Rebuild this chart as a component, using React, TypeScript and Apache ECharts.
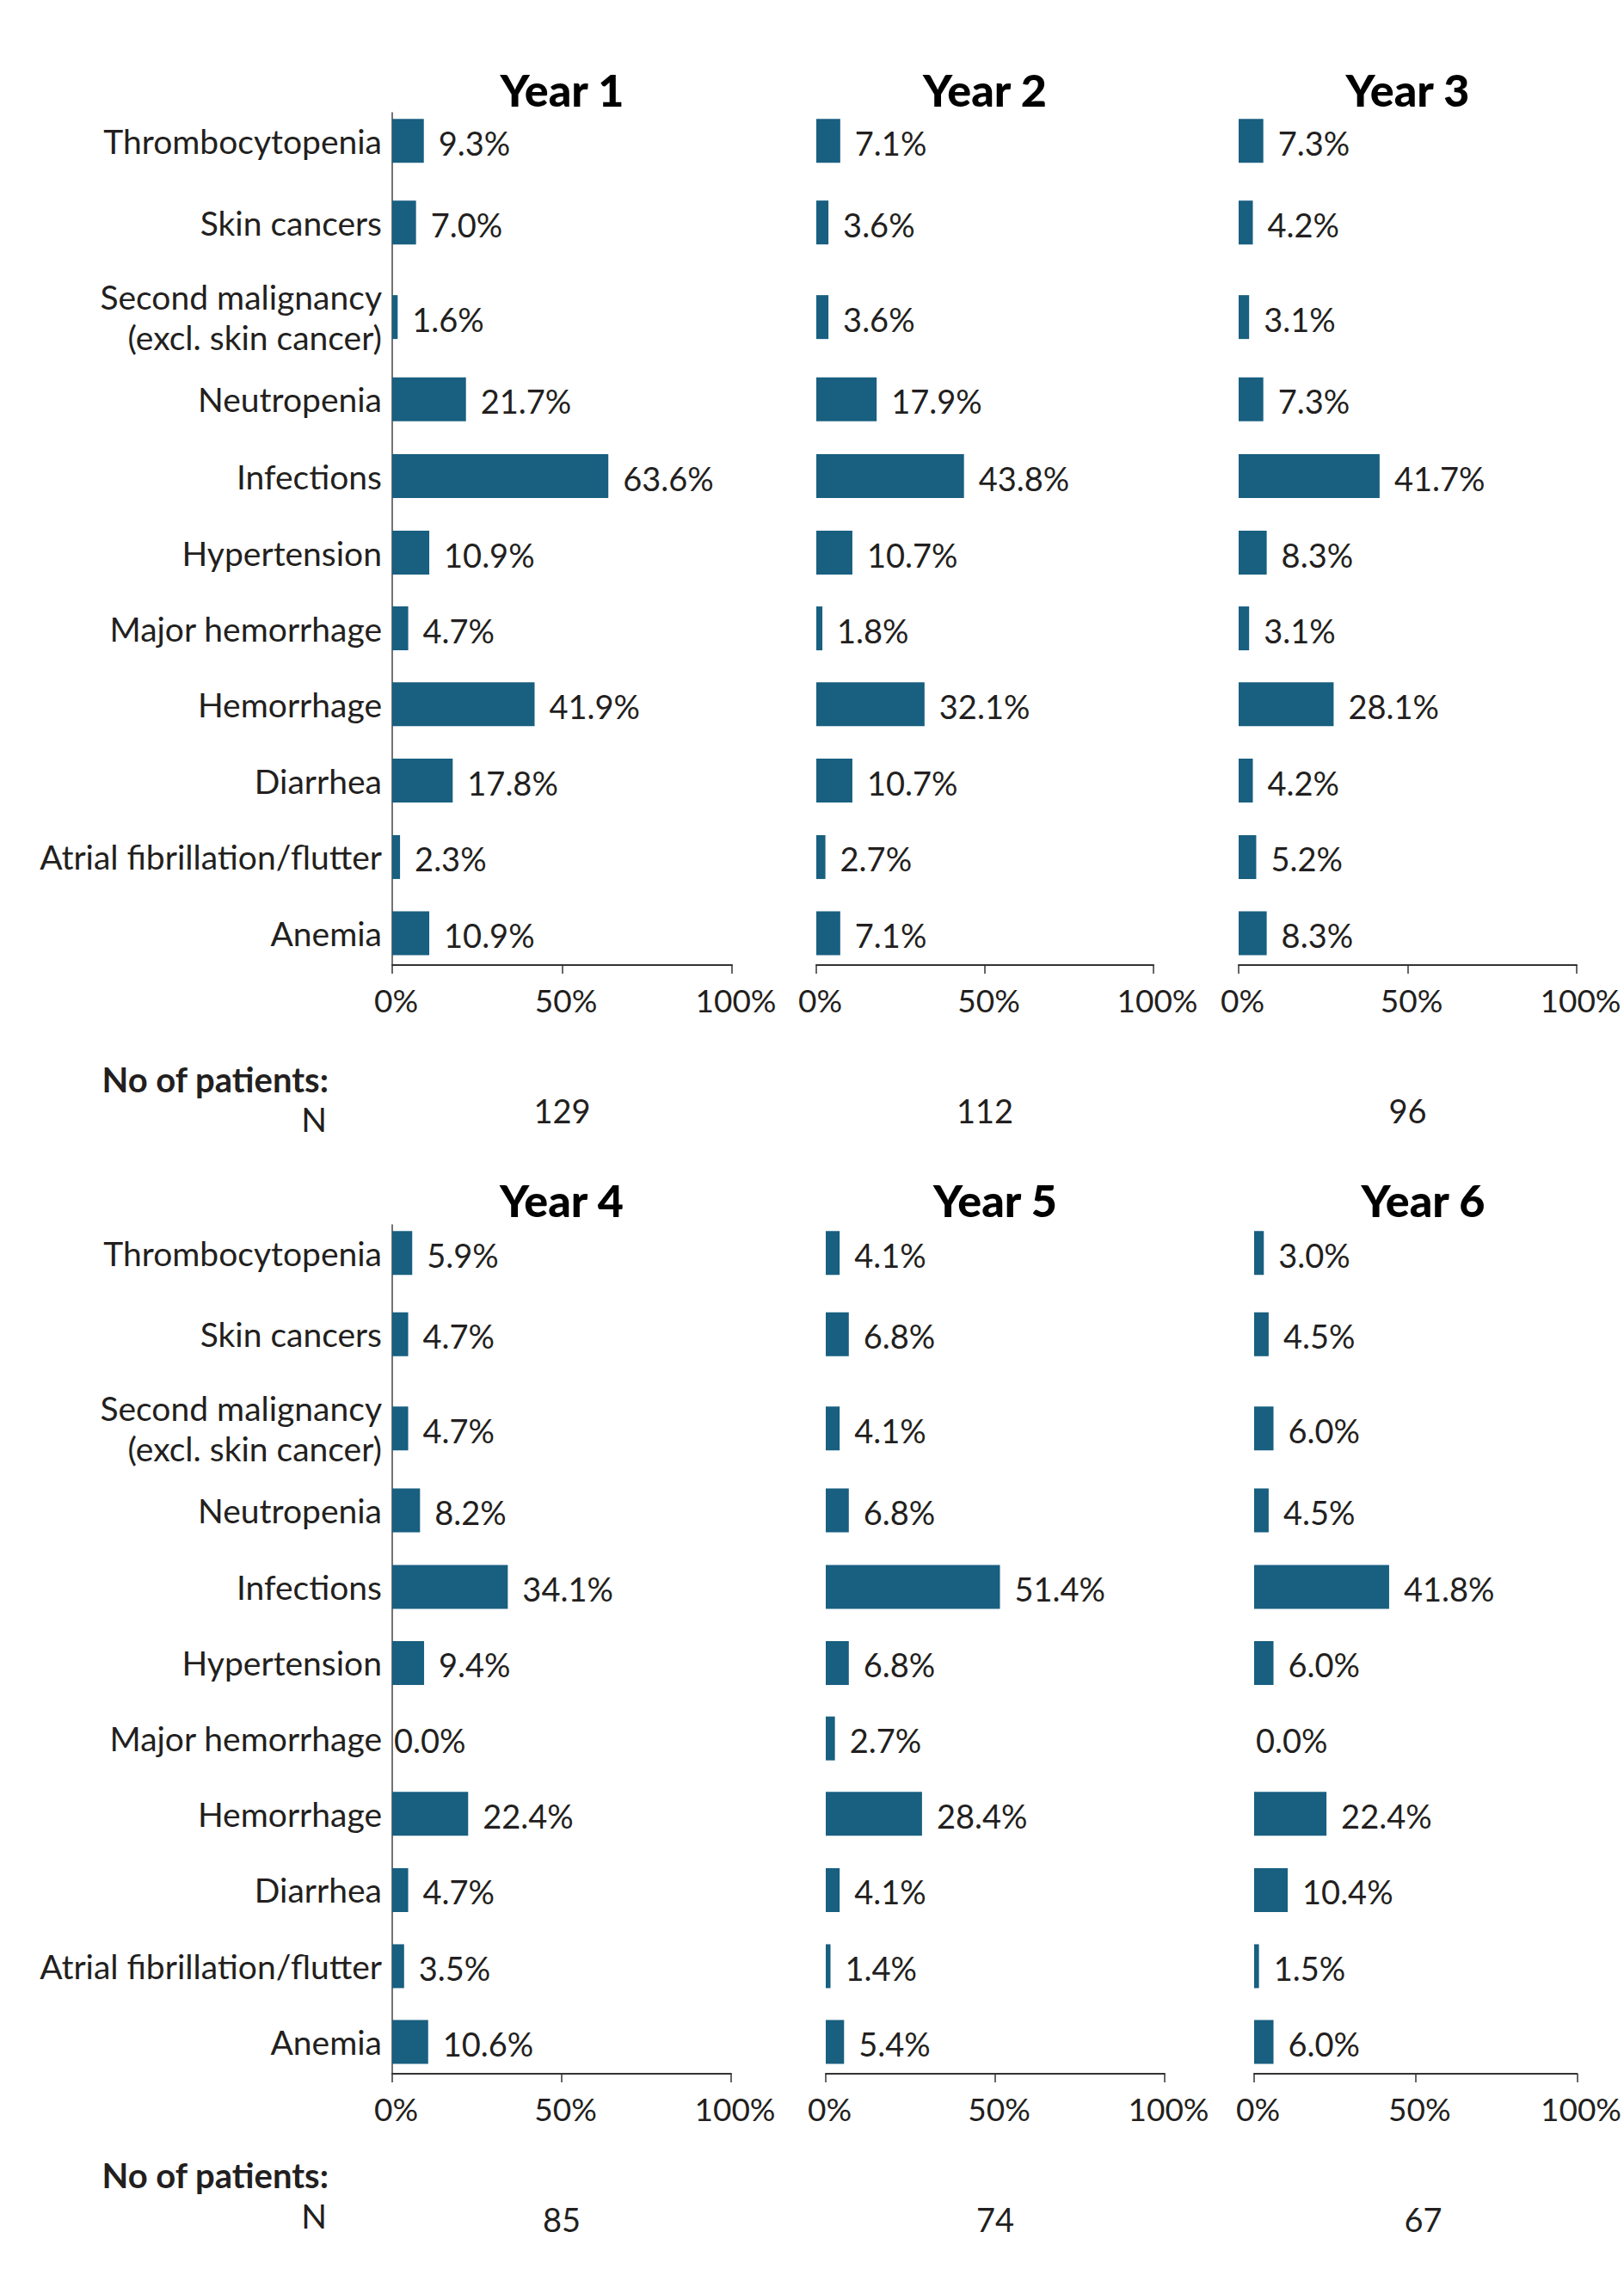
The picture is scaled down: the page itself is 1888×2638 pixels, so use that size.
import React, { useEffect, useRef } from "react";
import * as echarts from "echarts";

// ---------------- DATA ----------------
const CATEGORIES = [
  "Thrombocytopenia",
  "Skin cancers",
  "Second malignancy\n(excl. skin cancer)",
  "Neutropenia",
  "Infections",
  "Hypertension",
  "Major hemorrhage",
  "Hemorrhage",
  "Diarrhea",
  "Atrial fibrillation/flutter",
  "Anemia",
];

const YEARS = ["Year 1", "Year 2", "Year 3", "Year 4", "Year 5", "Year 6"];

const YEAR_1 = [9.3, 7.0, 1.6, 21.7, 63.6, 10.9, 4.7, 41.9, 17.8, 2.3, 10.9];
const YEAR_2 = [7.1, 3.6, 3.6, 17.9, 43.8, 10.7, 1.8, 32.1, 10.7, 2.7, 7.1];
const YEAR_3 = [7.3, 4.2, 3.1, 7.3, 41.7, 8.3, 3.1, 28.1, 4.2, 5.2, 8.3];
const YEAR_4 = [5.9, 4.7, 4.7, 8.2, 34.1, 9.4, 0.0, 22.4, 4.7, 3.5, 10.6];
const YEAR_5 = [4.1, 6.8, 4.1, 6.8, 51.4, 6.8, 2.7, 28.4, 4.1, 1.4, 5.4];
const YEAR_6 = [3.0, 4.5, 6.0, 4.5, 41.8, 6.0, 0.0, 22.4, 10.4, 1.5, 6.0];

const PATIENTS = [129, 112, 96, 85, 74, 67];

const X_TICKS = [0, 50, 100];

const SERIES_VALUES = [YEAR_1, YEAR_2, YEAR_3, YEAR_4, YEAR_5, YEAR_6];

// ---------------- LAYOUT / STYLE ----------------
const FONT = "Lato, 'Open Sans', sans-serif";
const TEXT_COLOR = "#231f20";
const BAR_COLOR = "#185f80";
const CAT_FONT_SIZE = 39;
const VAL_FONT_SIZE = 38;
const TICK_FONT_SIZE = 37;
const BAR_H = 51;
const LABEL_GAP = 17;

// row centre positions (in layout units) – the two-line label gets more room
const ROW_POS = [0, 56.25, 121.5, 178.25, 231.25, 284, 336.25, 388.5, 441.25, 494, 546.5];
const Y_MIN = -19.5;
const Y_MAX = 568.5;

const PANELS = [
  { left: 456, top: 131, width: 395, height: 991, labels: true },
  { left: 949, top: 131, width: 392, height: 991, labels: false },
  { left: 1440, top: 131, width: 393, height: 991, labels: false },
  { left: 456, top: 1424, width: 394, height: 987, labels: true },
  { left: 960, top: 1424, width: 394, height: 987, labels: false },
  { left: 1458, top: 1424, width: 393, height: 987, labels: false },
];

const TITLE_Y = [104, 104, 104, 1395, 1395, 1395];
const N_Y = [1291, 1291, 1291, 2580, 2580, 2580];
const PATIENT_ROWS = [
  { headY: 1255, nY: 1301 },
  { headY: 2529, nY: 2576 },
];
const PATIENT_RIGHT = 382;

function makeRender(showLabels: boolean) {
  return (params: any, api: any) => {
    const val = api.value(0);
    const pos = api.value(1);
    const idx = api.value(2);
    const p0 = api.coord([0, pos]);
    const p1 = api.coord([val, pos]);
    const children: any[] = [
      {
        type: "rect",
        shape: { x: p0[0], y: p0[1] - BAR_H / 2, width: p1[0] - p0[0], height: BAR_H },
        style: { fill: BAR_COLOR },
      },
      {
        type: "text",
        x: val > 0 ? p1[0] + LABEL_GAP : p0[0] + 2,
        y: p0[1] + 2,
        style: {
          text: val.toFixed(1) + "%",
          fill: TEXT_COLOR,
          fontSize: VAL_FONT_SIZE,
          fontFamily: FONT,
          align: "left",
          verticalAlign: "middle",
        },
      },
    ];
    if (showLabels) {
      children.push({
        type: "text",
        x: p0[0] - 12,
        y: p0[1],
        style: {
          text: CATEGORIES[idx],
          fill: TEXT_COLOR,
          fontSize: CAT_FONT_SIZE,
          fontFamily: FONT,
          lineHeight: 47,
          align: "right",
          verticalAlign: "middle",
        },
      });
    }
    return { type: "group", children };
  };
}

export default function App() {
  const ref = useRef<HTMLDivElement>(null);

  useEffect(() => {
    if (!ref.current) return;
    const chart = echarts.init(ref.current, null, { renderer: "svg" });

    const grid = PANELS.map((p) => ({
      left: p.left,
      top: p.top,
      width: p.width,
      height: p.height,
      containLabel: false,
    }));

    const xAxis = PANELS.map((p, i) => ({
      type: "value",
      gridIndex: i,
      min: X_TICKS[0],
      max: X_TICKS[X_TICKS.length - 1],
      interval: X_TICKS[1] - X_TICKS[0],
      position: "bottom",
      axisLine: { show: true, onZero: false, lineStyle: { color: "#333", width: 2 } },
      axisTick: { show: true, length: 10, lineStyle: { color: "#333", width: 1.5 } },
      axisLabel: {
        formatter: "{value}%",
        fontSize: TICK_FONT_SIZE,
        fontFamily: FONT,
        color: TEXT_COLOR,
        margin: 22,
        padding: [0, 0, 0, 9],
      },
      splitLine: { show: false },
    }));

    const yAxis = PANELS.map((p, i) => ({
      type: "value",
      gridIndex: i,
      inverse: true,
      min: Y_MIN,
      max: Y_MAX,
      axisLine: { show: p.labels, onZero: false, lineStyle: { color: "#444", width: 1.5 } },
      axisTick: { show: false },
      axisLabel: { show: false },
      splitLine: { show: false },
    }));

    const series = SERIES_VALUES.map((vals, i) => ({
      type: "custom",
      name: YEARS[i],
      xAxisIndex: i,
      yAxisIndex: i,
      clip: false,
      renderItem: makeRender(PANELS[i].labels),
      encode: { x: 0, y: 1 },
      data: vals.map((v, k) => [v, ROW_POS[k], k]),
    }));

    const graphics: any[] = [];
    PANELS.forEach((p, i) => {
      const cx = p.left + p.width / 2;
      graphics.push({
        type: "text",
        x: cx,
        y: TITLE_Y[i],
        style: {
          text: YEARS[i],
          fill: "#000",
          fontSize: 52,
          fontWeight: 900,
          fontFamily: FONT,
          align: "center",
          verticalAlign: "middle",
        },
      });
      graphics.push({
        type: "text",
        x: cx,
        y: N_Y[i],
        style: {
          text: String(PATIENTS[i]),
          fill: TEXT_COLOR,
          fontSize: VAL_FONT_SIZE,
          fontFamily: FONT,
          align: "center",
          verticalAlign: "middle",
        },
      });
    });
    PATIENT_ROWS.forEach((r) => {
      graphics.push({
        type: "text",
        x: PATIENT_RIGHT,
        y: r.headY,
        style: {
          text: "No of patients:",
          fill: TEXT_COLOR,
          fontSize: 40,
          fontWeight: "bold",
          fontFamily: FONT,
          align: "right",
          verticalAlign: "middle",
        },
      });
      graphics.push({
        type: "text",
        x: PATIENT_RIGHT - 2,
        y: r.nY,
        style: {
          text: "N",
          fill: TEXT_COLOR,
          fontSize: CAT_FONT_SIZE,
          fontFamily: FONT,
          align: "right",
          verticalAlign: "middle",
        },
      });
    });

    chart.setOption({
      animation: false,
      backgroundColor: "#ffffff",
      grid,
      xAxis,
      yAxis,
      series,
      graphic: graphics,
    });

    return () => chart.dispose();
  }, []);

  return (
    <div
      ref={ref}
      style={{ position: "absolute", left: 0, top: 0, width: 1888, height: 2638, background: "#fff" }}
    />
  );
}
